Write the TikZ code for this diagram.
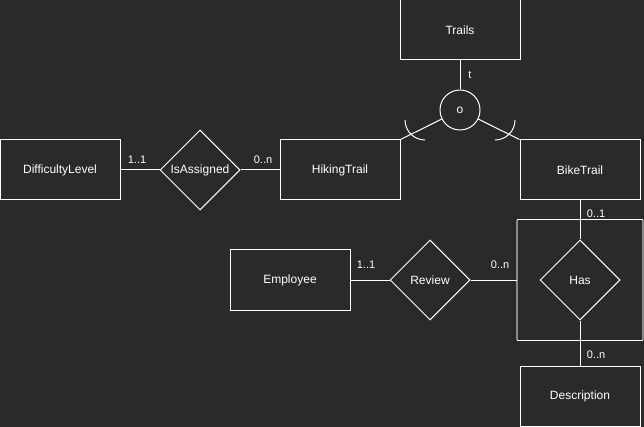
\documentclass[tikz,border=0pt]{standalone}
\usepackage{fontspec}
\setmainfont{Liberation Sans}
\usetikzlibrary{shapes.geometric}
\definecolor{bg}{HTML}{2A2A2A}
\definecolor{edgegrey}{HTML}{8A8A8A}
\tikzset{
  every node/.style={text=white, font=\fontsize{12}{14}\selectfont},
  entity/.style={draw=white, line width=1pt, minimum width=120pt, minimum height=60pt, inner sep=0pt},
  relation/.style={draw=white, line width=1pt, diamond, minimum width=80pt, minimum height=80pt, inner sep=0pt},
  card/.style={font=\fontsize{11}{13}\selectfont, inner sep=0pt},
  conn/.style={draw=white, line width=1pt},
}
\begin{document}
\begin{tikzpicture}[x=1pt,y=-1pt]
\fill[bg] (0,0) rectangle (644,427);
\useasboundingbox (0,0) rectangle (644,427);
% aggregation box
\coordinate (aggTL) at (517,220);
\coordinate (aggTR) at (643,220);
\coordinate (aggBL) at (517,340);
\coordinate (aggBR) at (643,340);
\coordinate (aggL) at (517,280);
\draw[edgegrey, line width=2.5pt] (aggTL) -- (aggBL) (aggTR) -- (aggBR);
\draw[conn] (aggTL) -- (aggTR) (aggBL) -- (aggBR);

\node[entity] (trails) at (460,30) {Trails};
\node[draw=white, line width=1pt, circle, minimum size=40pt, inner sep=0pt] (o) at (460,110) {o};
\node[entity] (hiking) at (340,170) {HikingTrail};
\node[entity] (bike) at (580,170) {BikeTrail};
\node[entity] (diff) at (60,170) {DifficultyLevel};
\node[relation] (isas) at (200,170) {IsAssigned};
\node[entity] (emp) at (290,280) {Employee};
\node[relation] (review) at (430,280) {Review};
\node[relation] (has) at (580,280) {Has};
\node[entity] (desc) at (580,396) {Description};

\node[card] (lt) at (470,75) {t};
\node[card] (l11a) at (137,160) {1..1};
\node[card] (l0na) at (263,160) {0..n};
\node[card] (l11b) at (366,265) {1..1};
\node[card] (l0nb) at (500,265) {0..n};
\node[card] (l01) at (596,214) {0..1};
\node[card] (l0nc) at (596,355) {0..n};

\draw[conn] (trails) -- (o);
\draw[conn] (o) -- (hiking.north east);
\draw[conn] (o) -- (bike.north west);
\draw[conn] (405,120) arc[start angle=180, end angle=90, radius=20];
\draw[conn] (515,120) arc[start angle=0, end angle=90, radius=20];
\draw[conn] (diff) -- (isas);
\draw[conn] (isas) -- (hiking);
\draw[conn] (emp) -- (review);
\draw[conn] (review) -- (aggL);
\draw[conn] (bike) -- (has);
\draw[conn] (has) -- (desc);
\end{tikzpicture}
\end{document}
